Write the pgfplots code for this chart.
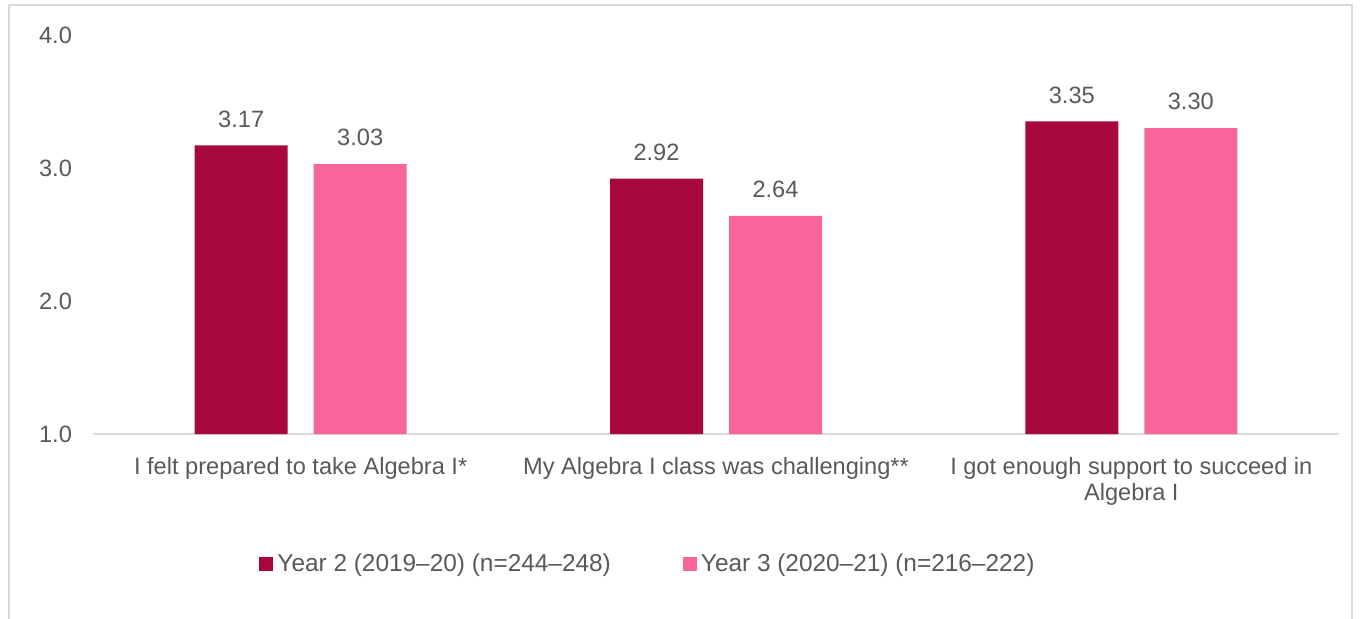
\documentclass[border=0pt]{standalone}
\usepackage{pgfplots}
\pgfplotsset{compat=1.18}
\usepackage{fontspec}
\setmainfont{Liberation Sans}
\definecolor{darkbar}{HTML}{A8063F}
\definecolor{pinkbar}{HTML}{F9649A}
\definecolor{txt}{HTML}{595959}
\definecolor{gridc}{HTML}{D9D9D9}
\newcommand{\cf}{\fontsize{11.8}{13}\selectfont}
\newcommand{\lf}{\fontsize{12.2}{13}\selectfont}
\begin{document}
\begin{tikzpicture}
\begin{axis}[
  at={(0,0)}, anchor=south west,
  width=623pt, height=199.5pt, scale only axis,
  xmin=-0.5, xmax=2.5, ymin=1, ymax=4,
  ybar=13pt, bar width=46.5pt,
  xtick={0,1,2},
  xticklabels={I felt prepared to take Algebra I*, My Algebra I class was challenging**, {I got enough support to succeed in\\Algebra I}},
  xticklabel style={font=\cf, text=txt, align=center, yshift=-8pt},
  ytick={1,2,3,4},
  yticklabel style={font=\cf, text=txt, xshift=-7pt},
  /pgf/number format/assume math mode=true,
  yticklabel={\pgfmathprintnumber[fixed,precision=1,zerofill]{\tick}},
  axis line style={draw=none},
  major tick length=0pt,
  clip=false,
  nodes near coords,
  nodes near coords style={font=\cf, text=txt, yshift=5.5pt, /pgf/number format/.cd, fixed, precision=2, zerofill, assume math mode=true},
  legend columns=2,
  legend style={draw=none, at={(0.4462,-0.326)}, anchor=center, font=\lf, text=txt,
    /tikz/every even column/.append style={column sep=34pt}},
  legend image code/.code={\fill[#1] (0pt,-3.4pt) rectangle (7pt,3.4pt);},
]
\draw[gridc, line width=1pt] (axis cs:-0.5,1) -- (axis cs:2.5,1);
\addplot[fill=darkbar, draw=none] coordinates {(0,3.17) (1,2.92) (2,3.35)};
\addplot[fill=pinkbar, draw=none] coordinates {(0,3.03) (1,2.64) (2,3.30)};
\legend{Year 2 (2019–20) (n=244–248), Year 3 (2020–21) (n=216–222)}
\end{axis}
\draw[gridc, line width=1pt] (-42pt,-95pt) -- (-42pt,214.5pt) -- (629.5pt,214.5pt) -- (629.5pt,-95pt);
\pgfresetboundingbox
\path[use as bounding box] (-46.5pt,-92pt) rectangle (634pt,217pt);
\end{tikzpicture}
\end{document}
